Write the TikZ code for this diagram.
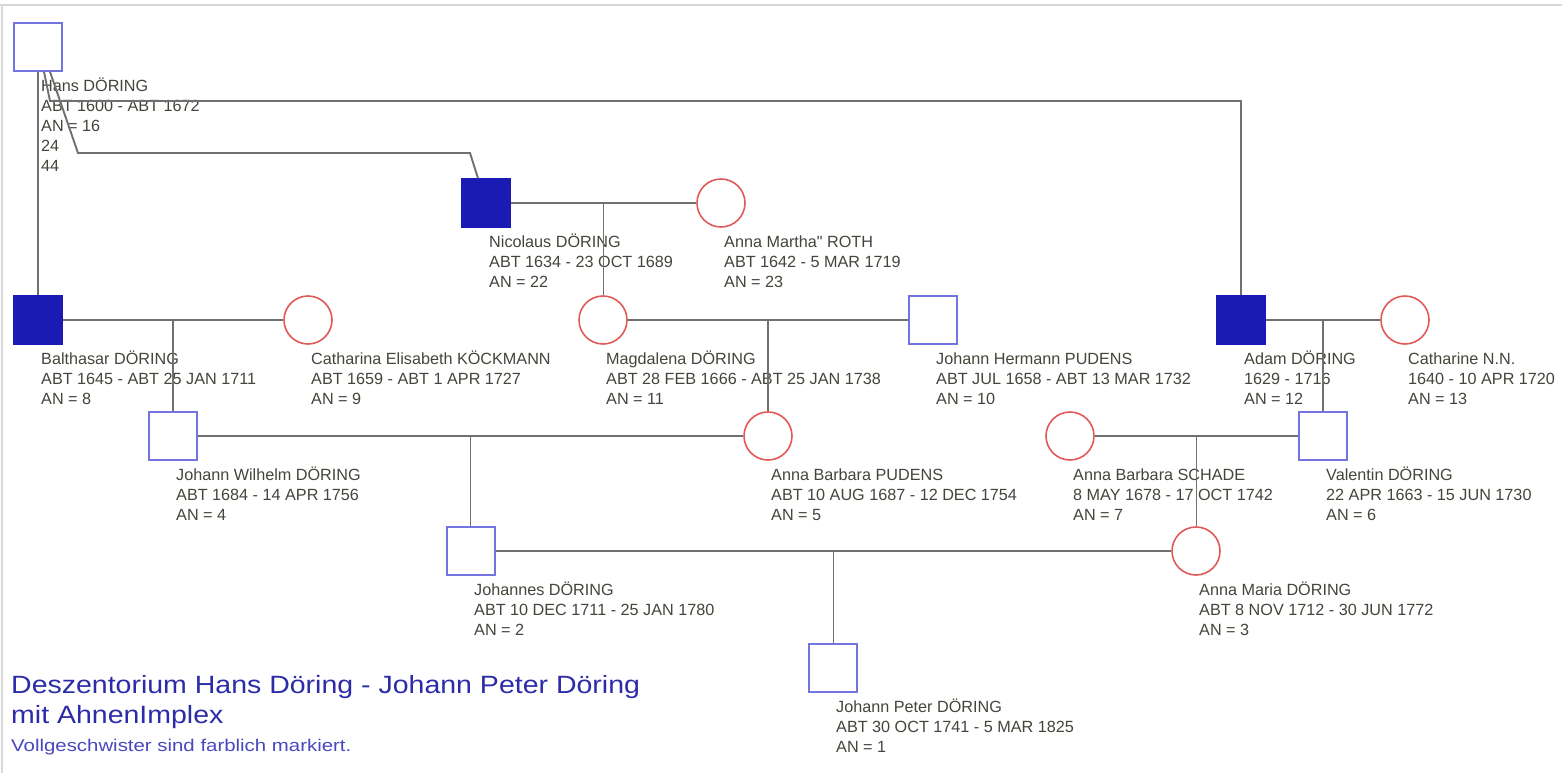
\documentclass[tikz,border=0pt]{standalone}
\usepackage{fontspec}
\setmainfont{Liberation Sans}
\newfontfamily\rawfont[Ligatures=TeXOff]{Liberation Sans}
\newfontfamily\titlefont[FakeStretch=1.14]{Liberation Sans}
\newfontfamily\notefont[FakeStretch=1.2]{Liberation Sans}
\usetikzlibrary{calc}
\definecolor{malec}{HTML}{7474E0}
\definecolor{mfill}{HTML}{1A1AB4}
\definecolor{femc}{HTML}{E05A5A}
\definecolor{linec}{HTML}{707070}
\definecolor{txtc}{HTML}{45453C}
\definecolor{titlec}{HTML}{2C2CA8}
\definecolor{notec}{HTML}{4848C0}
\definecolor{framec}{HTML}{D8D8D8}
\begin{document}
\begin{tikzpicture}[x=1pt,y=-1pt,
  male/.style={rectangle, draw=malec, line width=1.6pt, fill=white, minimum size=48pt, inner sep=0pt},
  malefill/.style={male, draw=mfill, fill=mfill},
  female/.style={circle, draw=femc, line width=1.6pt, fill=white, minimum size=48pt, inner sep=0pt},
  lbl/.style={anchor=north west, inner sep=0pt, align=left, font=\fontsize{16.2}{20}\selectfont, text=txtc},
  conn/.style={draw=linec, line width=1.9pt},
  titletext/.style={anchor=base west, inner sep=0pt, text=titlec, font=\titlefont\fontsize{25}{30}\selectfont},
  notetext/.style={anchor=base west, inner sep=0pt, text=notec, font=\notefont\fontsize{17}{20}\selectfont}
]
\useasboundingbox (0,0) rectangle (1562,773);
\fill[white] (0,0) rectangle (1562,773);
\draw[framec, line width=2pt] (0,5) -- (1562,5);
\draw[framec, line width=2pt] (2,5) -- (2,773);

% persons
\node[male]      (hans)       at (38,47)   {};
\node[malefill]  (nicolaus)   at (486,203) {};
\node[female]    (annamartha) at (721,203) {};
\node[malefill]  (balthasar)  at (38,320)  {};
\node[female]    (catharina)  at (308,320) {};
\node[female]    (magdalena)  at (603,320) {};
\node[male]      (jhermann)   at (933,320) {};
\node[malefill]  (adam)       at (1241,320) {};
\node[female]    (catharine)  at (1405,320) {};
\node[male]      (jwilhelm)   at (173,436) {};
\node[female]    (abpudens)   at (768,436) {};
\node[female]    (abschade)   at (1070,436) {};
\node[male]      (valentin)   at (1323,436) {};
\node[male]      (johannes)   at (471,551) {};
\node[female]    (annamaria)  at (1196,551) {};
\node[male]      (jpeter)     at (833,668) {};

% labels
\node[lbl] (lhans) at ($(hans)+(3,29)$) {\rule{0pt}{15pt}Hans DÖRING\\ABT 1600 - ABT 1672\\AN = 16\\24\\44};
\node[lbl] (lnicolaus) at ($(nicolaus)+(3,29)$) {\rule{0pt}{15pt}Nicolaus DÖRING\\ABT 1634 - 23 OCT 1689\\AN = 22};
\node[lbl] (lannamartha) at ($(annamartha)+(3,29)$) {\rule{0pt}{15pt}Anna Martha{\rawfont"} ROTH\\ABT 1642 - 5 MAR 1719\\AN = 23};
\node[lbl] (lbalthasar) at ($(balthasar)+(3,29)$) {\rule{0pt}{15pt}Balthasar DÖRING\\ABT 1645 - ABT 25 JAN 1711\\AN = 8};
\node[lbl] (lcatharina) at ($(catharina)+(3,29)$) {\rule{0pt}{15pt}Catharina Elisabeth KÖCKMANN\\ABT 1659 - ABT 1 APR 1727\\AN = 9};
\node[lbl] (lmagdalena) at ($(magdalena)+(3,29)$) {\rule{0pt}{15pt}Magdalena DÖRING\\ABT 28 FEB 1666 - ABT 25 JAN 1738\\AN = 11};
\node[lbl] (ljhermann) at ($(jhermann)+(3,29)$) {\rule{0pt}{15pt}Johann Hermann PUDENS\\ABT JUL 1658 - ABT 13 MAR 1732\\AN = 10};
\node[lbl] (ladam) at ($(adam)+(3,29)$) {\rule{0pt}{15pt}Adam DÖRING\\1629 - 1716\\AN = 12};
\node[lbl] (lcatharine) at ($(catharine)+(3,29)$) {\rule{0pt}{15pt}Catharine N.N.\\1640 - 10 APR 1720\\AN = 13};
\node[lbl] (ljwilhelm) at ($(jwilhelm)+(3,29)$) {\rule{0pt}{15pt}Johann Wilhelm DÖRING\\ABT 1684 - 14 APR 1756\\AN = 4};
\node[lbl] (labpudens) at ($(abpudens)+(3,29)$) {\rule{0pt}{15pt}Anna Barbara PUDENS\\ABT 10 AUG 1687 - 12 DEC 1754\\AN = 5};
\node[lbl] (labschade) at ($(abschade)+(3,29)$) {\rule{0pt}{15pt}Anna Barbara SCHADE\\8 MAY 1678 - 17 OCT 1742\\AN = 7};
\node[lbl] (lvalentin) at ($(valentin)+(3,29)$) {\rule{0pt}{15pt}Valentin DÖRING\\22 APR 1663 - 15 JUN 1730\\AN = 6};
\node[lbl] (ljohannes) at ($(johannes)+(3,29)$) {\rule{0pt}{15pt}Johannes DÖRING\\ABT 10 DEC 1711 - 25 JAN 1780\\AN = 2};
\node[lbl] (lannamaria) at ($(annamaria)+(3,29)$) {\rule{0pt}{15pt}Anna Maria DÖRING\\ABT 8 NOV 1712 - 30 JUN 1772\\AN = 3};
\node[lbl] (ljpeter) at ($(jpeter)+(3,29)$) {\rule{0pt}{15pt}Johann Peter DÖRING\\ABT 30 OCT 1741 - 5 MAR 1825\\AN = 1};

% connectors from Hans
\draw[conn] (hans.south) -- (hans.south |- balthasar.north);
\draw[conn] ([xshift=6pt]hans.south) -- (50,101) -- (adam.north |- {(0,101)}) -- (adam.north);
\draw[conn] ([xshift=12pt]hans.south) -- (78,153) -- (470,153) -- ([xshift=-8pt]nicolaus.north);

% couples and children
\draw[conn] (nicolaus) -- (annamartha);
\coordinate (m1) at ($(nicolaus.east)!0.5!(annamartha.west)$);
\draw[conn] (m1) -- (m1 |- magdalena.north);

\draw[conn] (balthasar) -- (catharina);
\coordinate (m2) at ($(balthasar.east)!0.5!(catharina.west)$);
\draw[conn] (m2) -- (m2 |- jwilhelm.north);

\draw[conn] (magdalena) -- (jhermann);
\coordinate (m3) at ($(magdalena.east)!0.5!(jhermann.west)$);
\draw[conn] (m3) -- (m3 |- abpudens.north);

\draw[conn] (adam) -- (catharine);
\coordinate (m4) at ($(adam.east)!0.5!(catharine.west)$);
\draw[conn] (m4) -- (m4 |- valentin.north);

\draw[conn] (jwilhelm) -- (abpudens);
\coordinate (m5) at ($(jwilhelm.east)!0.5!(abpudens.west)$);
\draw[conn] (m5) -- (m5 |- johannes.north);

\draw[conn] (abschade) -- (valentin);
\coordinate (m6) at ($(abschade.east)!0.5!(valentin.west)$);
\draw[conn] (m6) -- (m6 |- annamaria.north);

\draw[conn] (johannes) -- (annamaria);
\coordinate (m7) at ($(johannes.east)!0.5!(annamaria.west)$);
\draw[conn] (m7) -- (m7 |- jpeter.north);

% title
\node[titletext] (title1) at (11,693) {Deszentorium Hans Döring - Johann Peter Döring};
\node[titletext] (title2) at (11,723) {mit AhnenImplex};
\node[notetext] (title3) at (11,751) {Vollgeschwister sind farblich markiert.};
\end{tikzpicture}
\end{document}
